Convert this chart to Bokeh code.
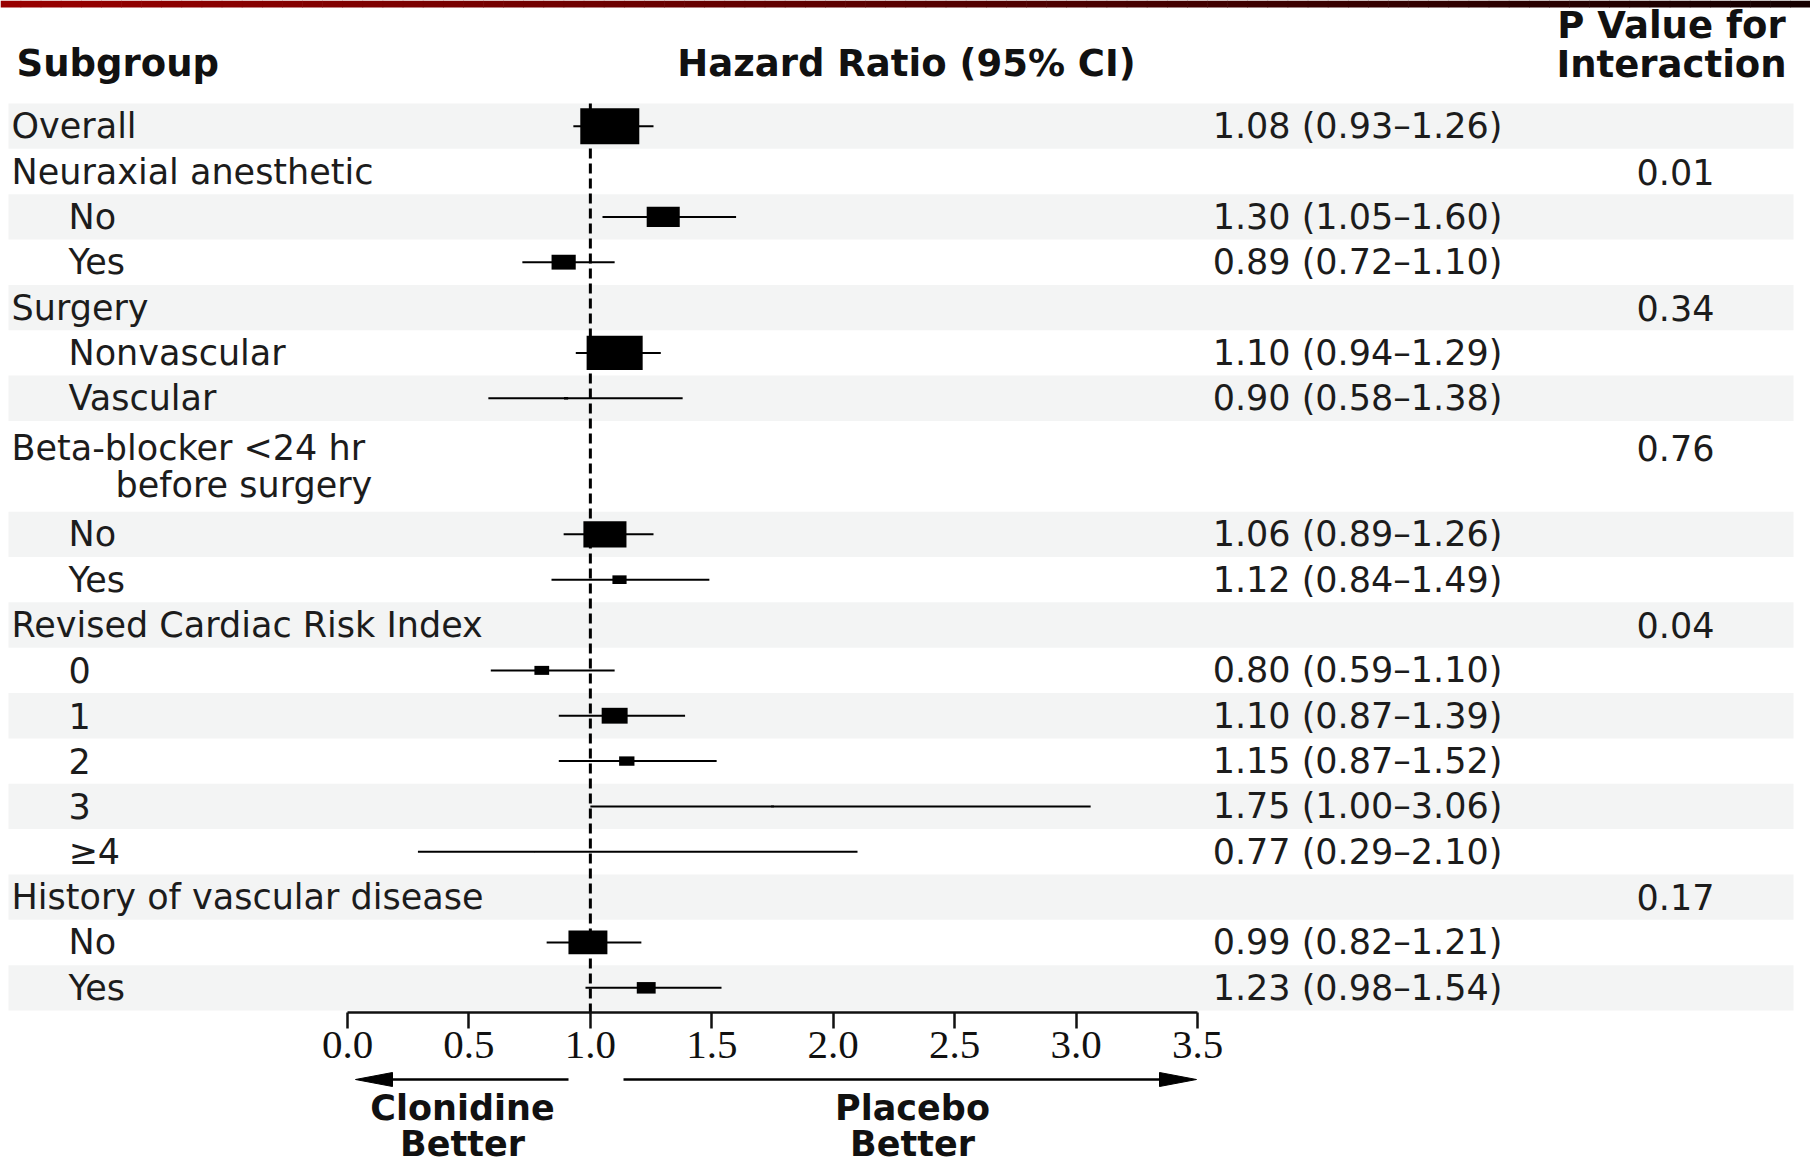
import numpy as np
from bokeh.plotting import figure
from bokeh.models import Range1d, LinearAxis, FixedTicker, PrintfTickFormatter
from bokeh.embed import file_html
from bokeh.resources import INLINE
from bokeh.core.properties import value

nan = float("nan")

# ---------------- data ----------------
subgroups = ["Overall", "Neuraxial anesthetic", "No", "Yes", "Surgery", "Nonvascular", "Vascular",
             "Beta-blocker <24 hr\nbefore surgery", "No", "Yes", "Revised Cardiac Risk Index",
             "0", "1", "2", "3", "\u22654", "History of vascular disease", "No", "Yes"]
indent_level = [0, 0, 1, 1, 0, 1, 1, 0, 1, 1, 0, 1, 1, 1, 1, 1, 0, 1, 1]
hazard_ratio = [1.08, nan, 1.30, 0.89, nan, 1.10, 0.90, nan, 1.06, 1.12, nan,
                0.80, 1.10, 1.15, 1.75, 0.77, nan, 0.99, 1.23]
ci_low = [0.93, nan, 1.05, 0.72, nan, 0.94, 0.58, nan, 0.89, 0.84, nan,
          0.59, 0.87, 0.87, 1.00, 0.29, nan, 0.82, 0.98]
ci_high = [1.26, nan, 1.60, 1.10, nan, 1.29, 1.38, nan, 1.26, 1.49, nan,
           1.10, 1.39, 1.52, 3.06, 2.10, nan, 1.21, 1.54]
box_weight = [1.0, nan, 0.56, 0.41, nan, 0.95, 0.07, nan, 0.73, 0.24, nan,
              0.25, 0.44, 0.26, 0.05, 0.02, nan, 0.66, 0.32]
p_interaction = ["", "0.01", "", "", "0.34", "", "", "0.76", "", "", "0.04",
                 "", "", "", "", "", "0.17", "", ""]
tick_values = [0.0, 0.5, 1.0, 1.5, 2.0, 2.5, 3.0, 3.5]
tick_labels = ["0.0", "0.5", "1.0", "1.5", "2.0", "2.5", "3.0", "3.5"]
column_headers = ["Subgroup", "Hazard Ratio (95% CI)", "P Value for\nInteraction"]
favours = ["Clonidine\nBetter", "Placebo\nBetter"]
reference_line = 1.0

# ---------------- layout ----------------
W, H = 1810, 1165
PX0, PX_PER = 347.0, 242.86          # pixel of HR 0, pixels per HR unit
ROW_TOP, ROW_H = 103.0, 45.35
AXIS_Y = 1012.0
LINE_GAP = 37.0
FONT = "DejaVu Sans"
BODY = "35px"
HEAD = "37px"
TXT = "#1c1c1c"

p = figure(width=W, height=H, output_backend="svg", toolbar_location=None,
           x_range=Range1d(-PX0 / PX_PER, (W - PX0) / PX_PER), y_range=Range1d(H, 0),
           x_axis_type=None, y_axis_type=None, min_border=0, outline_line_color=None)
p.extra_x_ranges = {"px": Range1d(0, W)}
p.background_fill_color = "white"
p.border_fill_color = "white"

n_lines = np.array([s.count("\n") + 1 for s in subgroups])
heights = n_lines * ROW_H
tops = ROW_TOP + np.concatenate([[0], np.cumsum(heights)[:-1]])
centers = tops + heights / 2

# red top bar (gradient)
nseg = 90
edges = np.linspace(0, W, nseg + 1)
cols = ["#%02x0000" % int(round(152 - 130 * i / (nseg - 1))) for i in range(nseg)]
p.quad(left=edges[:-1], right=edges[1:] + 0.6, top=0, bottom=7, color=cols,
       line_color=None, x_range_name="px")

# alternating row bands
shade = np.array([i % 2 == 0 for i in range(len(subgroups))])
p.quad(left=8, right=1793, top=tops[shade], bottom=(tops + heights)[shade],
       x_range_name="px", color="#f3f4f4", line_color=None)

# reference line at HR = 1
p.segment(x0=[reference_line], y0=[ROW_TOP], x1=[reference_line], y1=[AXIS_Y],
          line_dash="10 5", line_width=3, color="black")

# whiskers and boxes
hr = np.array(hazard_ratio)
ok = ~np.isnan(hr)
lo = np.array(ci_low)[ok]
hi = np.array(ci_high)[ok]
w = np.array(box_weight)[ok]
p.segment(x0=lo, y0=centers[ok], x1=hi, y1=centers[ok], line_width=2, color="black")
p.rect(x=hr[ok], y=centers[ok], width=w * 59, height=w * 36,
       width_units="screen", height_units="screen", color="black", line_color=None)

# subgroup labels
lx, ly, lt = [], [], []
for i, s in enumerate(subgroups):
    parts = s.split("\n")
    n = len(parts)
    for k, part in enumerate(parts):
        lx.append(11 + indent_level[i] * 57 + (104 if k > 0 else 0))
        ly.append(centers[i] + (k - (n - 1) / 2) * LINE_GAP)
        lt.append(part)
p.text(x=lx, y=ly, text=lt, x_range_name="px", text_font=value(FONT), text_font_size=BODY,
       text_baseline="middle", text_align="left", text_color=TXT)

# HR (95% CI) text
ci_text = ["%.2f (%.2f\u2013%.2f)" % (a, b, c) for a, b, c in zip(hr[ok], lo, hi)]
p.text(x=[1357] * len(ci_text), y=centers[ok], text=ci_text, x_range_name="px",
       text_font=value(FONT), text_font_size=BODY, text_baseline="middle",
       text_align="center", text_color=TXT)

# p values (on first line of each group row)
pv_idx = [i for i, v in enumerate(p_interaction) if v]
pv_y = [centers[i] - (n_lines[i] - 1) / 2 * LINE_GAP for i in pv_idx]
p.text(x=[1675] * len(pv_idx), y=pv_y, text=[p_interaction[i] for i in pv_idx],
       x_range_name="px", text_font=value(FONT), text_font_size=BODY,
       text_baseline="middle", text_align="center", text_color=TXT)

# column headers
p.text(x=[16], y=[63], text=[column_headers[0]], x_range_name="px", text_font=value(FONT),
       text_font_size=HEAD, text_font_style="bold", text_baseline="middle", text_align="left",
       text_color="#111111")
p.text(x=[906], y=[63], text=[column_headers[1]], x_range_name="px", text_font=value(FONT),
       text_font_size=HEAD, text_font_style="bold", text_baseline="middle", text_align="center",
       text_color="#111111")
ph = column_headers[2].split("\n")
p.text(x=[1671, 1671], y=[25, 63.5], text=ph, x_range_name="px", text_font=value(FONT),
       text_font_size=HEAD, text_font_style="bold", text_baseline="middle", text_align="center",
       text_color="#111111")

# x axis (hazard ratio)
ax = LinearAxis(ticker=FixedTicker(ticks=tick_values),
                formatter=PrintfTickFormatter(format="%.1f"),
                major_label_overrides={v: l for v, l in zip(tick_values, tick_labels)},
                fixed_location=AXIS_Y, bounds=(tick_values[0], tick_values[-1]))
ax.axis_line_width = 2.5
ax.axis_line_color = "#111111"
ax.major_tick_line_width = 2.5
ax.major_tick_line_color = "#111111"
ax.major_tick_out = 16
ax.major_tick_in = 0
ax.minor_tick_out = 0
ax.minor_tick_in = 0
ax.major_label_text_font = "Liberation Serif"
ax.major_label_text_font_size = "41px"
ax.major_label_text_color = "#111111"
ax.major_label_standoff = 3
p.add_layout(ax, "below")

# direction arrows
ay = 1079
p.segment(x0=[568, 623], y0=[ay, ay], x1=[383, 1168], y1=[ay, ay], x_range_name="px",
          line_width=2.5, color="black")
p.patches(xs=[[355, 392, 392], [1196, 1159, 1159]],
          ys=[[ay, ay - 7, ay + 7], [ay, ay - 7, ay + 7]], x_range_name="px",
          color="black", line_color="black")

fx, fy, ft = [], [], []
for cx, lab in zip([462, 912], favours):
    for k, part in enumerate(lab.split("\n")):
        fx.append(cx)
        fy.append(1107 + k * 36)
        ft.append(part)
p.text(x=fx, y=fy, text=ft, x_range_name="px", text_font=value(FONT), text_font_size="35px",
       text_font_style="bold", text_baseline="middle", text_align="center",
       text_color="#111111")

open("out.html", "w").write(file_html(p, INLINE))
